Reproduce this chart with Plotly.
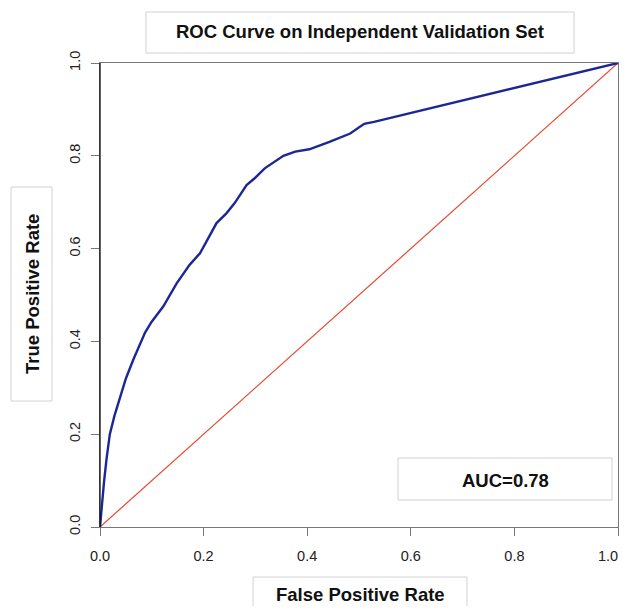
import plotly.graph_objects as go

# ROC curve values
fpr = [0, 0.002, 0.004, 0.008, 0.013, 0.019, 0.028, 0.0385, 0.050, 0.064, 0.087, 0.0995,
       0.122, 0.148, 0.173, 0.193, 0.209, 0.225, 0.244, 0.260, 0.283, 0.298, 0.318, 0.354,
       0.377, 0.404, 0.443, 0.483, 0.510, 0.529, 1.0]
tpr = [0, 0.03, 0.05, 0.10, 0.15, 0.20, 0.24, 0.278, 0.32, 0.36, 0.419, 0.442,
       0.475, 0.525, 0.565, 0.590, 0.622, 0.655, 0.676, 0.698, 0.737, 0.751, 0.773, 0.800,
       0.809, 0.814, 0.830, 0.848, 0.869, 0.873, 1.0]
diag_x = [0, 1]
diag_y = [0, 1]
tick_vals = [0.0, 0.2, 0.4, 0.6, 0.8, 1.0]
tick_text = ["0.0", "0.2", "0.4", "0.6", "0.8", "1.0"]

title_text = "ROC Curve on Independent Validation Set"
xlabel = "False Positive Rate"
ylabel = "True Positive Rate"
auc_text = "AUC=0.78"

# page body has an 8px margin: keep the figure inside the visible body box
OFF = 8
W, H = 628 - 2 * OFF, 614 - 2 * OFF
L, T = 100 - OFF, 63 - OFF
R = W - (618 - OFF)
B = H - (527 - OFF)
PW, PH = W - L - R, H - T - B

def px(x):
    return (x - OFF - L) / PW

def py(y):
    return (H - B - (y - OFF)) / PH

FONT = "Liberation Sans, Arial, Helvetica, sans-serif"
BOX = "#d2d2d2"
TICKFONT = dict(size=14.5, color="#222", family=FONT)

fig = go.Figure()
fig.add_trace(go.Scatter(x=diag_x, y=diag_y, mode="lines",
                         line=dict(color="#e8472e", width=1.2), hoverinfo="skip"))
fig.add_trace(go.Scatter(x=fpr, y=tpr, mode="lines",
                         line=dict(color="#1c2796", width=2.4), hoverinfo="skip"))

shapes = []
# text boxes (reference pixel coordinates)
for (x0, y0, x1, y1) in [(146, 12, 574, 53), (11, 187, 52, 401), (253, 577, 467, 640), (398, 458, 612, 500)]:
    shapes.append(dict(type="rect", xref="paper", yref="paper",
                       x0=px(x0), x1=px(x1), y0=py(y1), y1=py(y0),
                       line=dict(color=BOX, width=1), fillcolor="rgba(0,0,0,0)", layer="above"))
# black left axis line
shapes.append(dict(type="line", xref="paper", yref="paper", x0=0, x1=0, y0=0, y1=1,
                   line=dict(color="#111111", width=1.3), layer="above"))

annotations = [
    dict(text="<b>%s</b>" % title_text, xref="paper", yref="paper", x=px(360), y=py(32),
         showarrow=False, font=dict(size=18.5, color="#111", family=FONT), xanchor="center", yanchor="middle"),
    dict(text="<b>%s</b>" % ylabel, xref="paper", yref="paper", x=px(32), y=py(294),
         showarrow=False, textangle=-90, font=dict(size=18.5, color="#111", family=FONT),
         xanchor="center", yanchor="middle"),
    dict(text="<b>%s</b>" % xlabel, xref="paper", yref="paper", x=px(360), y=py(594),
         showarrow=False, font=dict(size=18.5, color="#111", family=FONT), xanchor="center", yanchor="middle"),
    dict(text="<b>%s</b>" % auc_text, xref="paper", yref="paper", x=px(505), y=py(480),
         showarrow=False, font=dict(size=18.5, color="#111", family=FONT), xanchor="center", yanchor="middle"),
    # last x tick label, kept inside the page edge
    dict(text=tick_text[-1], xref="paper", yref="paper", x=px(620), y=py(556),
         showarrow=False, font=TICKFONT, xanchor="right", yanchor="middle"),
]

x_ticktext = tick_text[:-1] + [""]

axis_common = dict(range=[0, 1], showgrid=False, zeroline=False, showline=True,
                   linecolor="#777777", linewidth=1.3, mirror=True, automargin=False,
                   ticks="outside", ticklen=8, tickwidth=1.3, tickcolor="#777777",
                   tickvals=tick_vals, ticklabeloverflow="allow",
                   tickfont=TICKFONT, fixedrange=True)

fig.update_layout(
    autosize=False,
    width=W, height=H,
    margin=dict(l=L, r=R, t=T, b=B),
    paper_bgcolor="white", plot_bgcolor="white",
    showlegend=False,
    xaxis=dict(**axis_common, ticktext=x_ticktext, ticklabelstandoff=7),
    yaxis=dict(**axis_common, ticktext=tick_text, tickangle=-90, ticklabelstandoff=5),
    shapes=shapes,
    annotations=annotations,
)

fig.write_html("out.html")
